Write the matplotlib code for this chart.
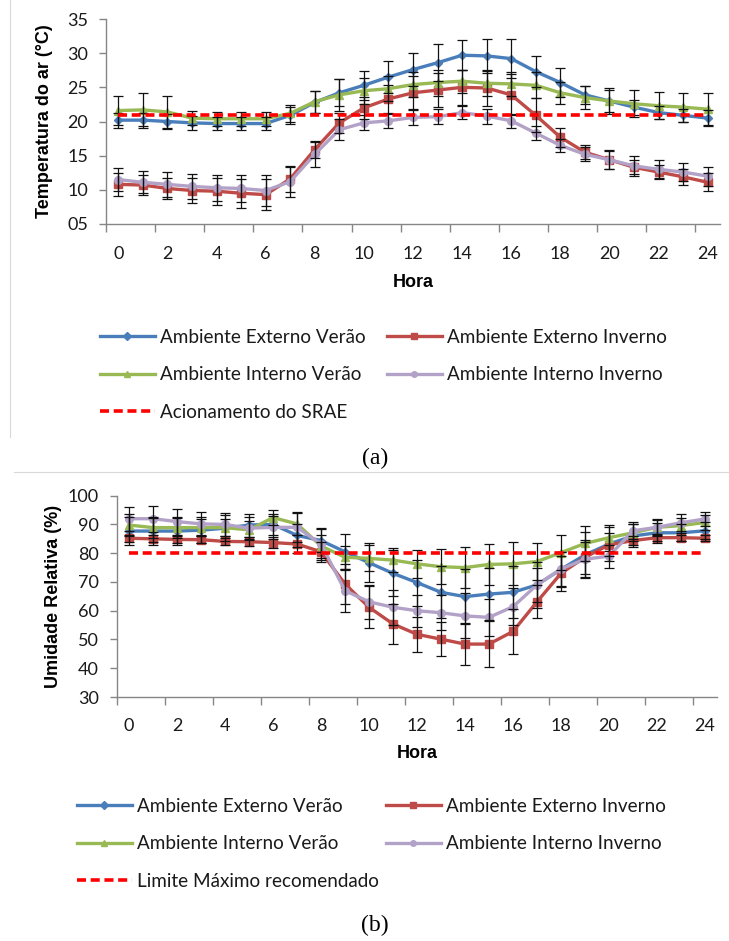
import matplotlib
matplotlib.use("Agg")
import matplotlib.pyplot as plt
from matplotlib.lines import Line2D

# ---------------- data ----------------
hours = list(range(25))
x_labels = [str(h) for h in range(0, 25, 2)]

# (a) air temperature
t_ext_verao = [20.2, 20.2, 20.0, 19.8, 19.7, 19.7, 19.7, 20.9, 22.8, 24.2, 25.3, 26.5, 27.6,
               28.6, 29.7, 29.6, 29.2, 27.3, 25.7, 23.9, 23.0, 22.1, 21.3, 20.9, 20.5]
t_ext_verao_err = [1.1, 1.1, 1.1, 1.0, 1.0, 1.0, 1.0, 1.2, 1.6, 2.0, 2.1, 2.3, 2.4,
                   2.7, 2.2, 2.5, 2.9, 2.3, 2.1, 1.3, 1.6, 1.1, 1.0, 1.0, 1.2]
t_ext_inverno = [10.8, 10.7, 10.2, 9.9, 9.8, 9.5, 9.3, 11.6, 15.9, 19.8, 22.0, 23.3, 24.2,
                 24.6, 25.0, 24.9, 23.9, 20.9, 17.7, 15.5, 14.4, 13.3, 12.6, 11.9, 11.1]
t_ext_inverno_err = [1.7, 1.5, 1.6, 1.8, 2.0, 2.1, 2.3, 1.9, 1.3, 1.5, 1.6, 2.0, 2.4,
                     2.5, 2.6, 2.7, 3.0, 2.5, 1.4, 1.0, 1.3, 1.0, 1.0, 1.2, 1.3]
t_int_verao = [21.6, 21.7, 21.4, 20.5, 20.4, 20.4, 20.4, 21.2, 22.9, 23.9, 24.5, 24.8, 25.4,
               25.7, 25.9, 25.6, 25.5, 25.3, 24.2, 23.5, 23.0, 22.6, 22.3, 22.1, 21.8]
t_int_verao_err = [2.1, 2.4, 2.3, 1.0, 1.0, 1.0, 1.0, 1.2, 1.6, 2.3, 1.9, 1.8, 1.8,
                   1.9, 1.7, 1.8, 1.8, 1.9, 1.6, 1.7, 1.9, 2.0, 2.0, 2.1, 2.3]
t_int_inverno = [11.5, 11.1, 10.8, 10.5, 10.3, 10.2, 9.9, 11.2, 15.2, 18.8, 19.8, 20.1, 20.6,
                 20.7, 21.3, 20.8, 20.1, 18.3, 16.5, 15.2, 14.4, 13.5, 13.0, 12.6, 12.0]
t_int_inverno_err = [1.7, 1.6, 1.8, 1.8, 1.9, 2.0, 2.2, 2.2, 1.8, 1.5, 1.1, 1.0, 1.1,
                     1.1, 1.0, 1.1, 1.0, 1.0, 1.0, 1.0, 1.4, 1.5, 1.3, 1.3, 1.4]
t_srae = 21
t_yticks = [5, 10, 15, 20, 25, 30, 35]
t_yticklabels = ["05", "10", "15", "20", "25", "30", "35"]

# (b) relative humidity
h_ext_verao = [87.7, 87.7, 87.7, 88.0, 88.7, 89.8, 90.0, 86.2, 84.4, 80.5, 76.7, 73.0, 69.8,
               66.4, 64.9, 65.8, 66.4, 69.0, 74.4, 79.4, 83.2, 86.0, 87.1, 87.1, 87.8]
h_ext_verao_err = [5.0, 5.0, 5.0, 4.5, 4.5, 4.0, 3.5, 4.0, 4.0, 6.1, 6.7, 8.0, 8.0,
                   9.0, 9.5, 9.0, 9.0, 8.0, 6.0, 8.0, 6.0, 4.0, 3.5, 3.0, 3.0]
h_ext_inverno = [85.2, 85.0, 84.8, 84.7, 84.1, 84.0, 83.7, 83.2, 80.5, 69.3, 61.2, 55.4, 51.8,
                 50.1, 48.4, 48.4, 52.8, 63.1, 73.0, 78.6, 82.9, 84.4, 85.4, 85.4, 85.2]
h_ext_inverno_err = [1.2, 1.2, 1.2, 1.2, 1.3, 1.6, 1.8, 3.0, 3.5, 7.0, 7.3, 7.0, 6.1,
                     5.9, 7.3, 7.9, 7.9, 5.8, 6.0, 6.0, 4.0, 1.5, 1.2, 1.0, 1.0]
h_int_verao = [89.8, 88.9, 88.9, 88.9, 88.9, 88.1, 92.4, 90.2, 82.5, 78.6, 78.2, 77.6, 76.3,
               75.3, 75.0, 76.1, 76.3, 77.1, 80.2, 83.4, 85.4, 87.1, 89.0, 89.6, 90.7]
h_int_verao_err = [3.7, 3.5, 3.5, 3.0, 3.0, 3.0, 2.5, 4.0, 4.0, 4.0, 4.5, 4.1, 4.8,
                   6.0, 7.1, 7.0, 7.5, 6.5, 6.0, 6.0, 4.5, 3.0, 2.5, 2.5, 2.5]
h_int_inverno = [92.0, 92.0, 91.0, 90.2, 90.0, 88.7, 89.0, 89.0, 83.2, 67.0, 63.1, 61.2, 60.0,
                 59.3, 58.2, 57.7, 61.4, 69.0, 74.5, 77.9, 79.0, 87.8, 89.0, 90.6, 91.9]
h_int_inverno_err = [4.2, 4.5, 4.5, 4.0, 4.0, 4.0, 4.0, 5.0, 5.5, 7.3, 6.0, 6.0, 5.5,
                     6.0, 7.8, 6.5, 6.5, 6.0, 6.0, 6.0, 4.0, 3.0, 3.0, 3.0, 2.5]
h_limite = 80
h_yticks = [30, 40, 50, 60, 70, 80, 90, 100]
h_yticklabels = [str(v) for v in h_yticks]

names = ["Ambiente Externo Verão", "Ambiente Externo Inverno",
         "Ambiente Interno Verão", "Ambiente Interno Inverno"]

# ---------------- style ----------------
colors = ["#4A7EBB", "#BE4B48", "#98B954", "#B3A2C7"]
markers = ["D", "s", "^", "o"]
msizes = [4.5, 5.5, 6, 5.5]
AX_GRAY = "#868686"
TXT = "#1a1a1a"
TICK_FONT = ["Lato", "DejaVu Sans"]
LEG_FONT = ["Lato", "DejaVu Sans"]
W, H = 729, 941

fig = plt.figure(figsize=(W / 100, H / 100), dpi=100)


def fx(px):
    return px / W


def fy(py):
    return 1 - py / H


def make_axes(left, right, top, bottom):
    return fig.add_axes([fx(left), fy(bottom), fx(right - left), (bottom - top) / H])


def style_axes(ax, yticks, yticklabels, ylim, ylabel, ylab_x, xlab_y, xpad):
    ax.set_xlim(-0.5, 24.5)
    ax.set_ylim(*ylim)
    for s in ["top", "right"]:
        ax.spines[s].set_visible(False)
    for s in ["left", "bottom"]:
        ax.spines[s].set_color(AX_GRAY)
        ax.spines[s].set_linewidth(1.0)
    ax.set_yticks(yticks)
    ax.set_yticklabels(yticklabels, fontsize=13, family=TICK_FONT, color=TXT)
    ax.set_xticks(list(range(0, 25, 2)))
    ax.set_xticklabels(x_labels, fontsize=13, family=TICK_FONT, color=TXT)
    ax.set_xticks([i - 0.5 for i in range(0, 25, 2)], minor=True)
    ax.tick_params(axis="x", which="major", length=0, pad=xpad)
    ax.tick_params(axis="x", which="minor", length=6, width=1, color=AX_GRAY, direction="out")
    ax.tick_params(axis="y", which="major", length=5, width=1, color=AX_GRAY, direction="out", pad=8)
    ax.set_xlabel("Hora", fontsize=13, fontweight="bold", family=["Liberation Sans"], color="black")
    ax.set_ylabel(ylabel, fontsize=13, fontweight="bold", family=["Liberation Sans"], color="black")
    ax.yaxis.set_label_coords(ylab_x, 0.5)
    ax.xaxis.set_label_coords(0.5, xlab_y)


def draw_series(ax, series, errs, ref_value):
    handles = []
    for vals, err, c, m, ms in zip(series, errs, colors, markers, msizes):
        ax.errorbar(hours, vals, yerr=err, fmt="none", ecolor="#111111", elinewidth=0.9,
                    capsize=3.6, capthick=0.9, zorder=4)
        ln, = ax.plot(hours, vals, color=c, lw=2.4, marker=m, markersize=ms,
                      markeredgecolor=c, markerfacecolor=c, zorder=3)
        handles.append(ln)
    ref, = ax.plot(hours, [ref_value] * len(hours), color="#FF0000", lw=2.6,
                   linestyle=(0, (2.5, 1.3)), zorder=5)
    handles.append(ref)
    return handles


def add_legends(handles, ref_label, col1_x, col2_x, top_y):
    leg_kw = dict(frameon=False, loc="upper left", borderpad=0, borderaxespad=0,
                  handlelength=2.9, handletextpad=0.28, labelspacing=1.08, numpoints=1,
                  prop={"family": LEG_FONT, "size": 13.6}, labelcolor=TXT)
    l1 = fig.legend([handles[0], handles[2], handles[4]],
                    [names[0], names[2], ref_label],
                    bbox_to_anchor=(fx(col1_x), fy(top_y)), **leg_kw)
    l2 = fig.legend([handles[1], handles[3]], [names[1], names[3]],
                    bbox_to_anchor=(fx(col2_x), fy(top_y)), **leg_kw)
    for leg in (l1, l2):
        for lh in leg.legend_handles:
            lh.set_markersize(4)


# ---------------- (a) ----------------
ax1 = make_axes(106, 720, 19, 224)
h1 = draw_series(ax1,
                 [t_ext_verao, t_ext_inverno, t_int_verao, t_int_inverno],
                 [t_ext_verao_err, t_ext_inverno_err, t_int_verao_err, t_int_inverno_err],
                 t_srae)
style_axes(ax1, t_yticks, t_yticklabels, (5, 35), "Temperatura do ar (°C)", -0.086, -0.244, 16)
add_legends(h1, "Acionamento do SRAE", 100, 387, 329)
fig.text(fx(375), fy(458), "(a)", ha="center", va="center", fontsize=17,
         family=["Liberation Serif"], color="black")

# ---------------- (b) ----------------
ax2 = make_axes(117, 717, 495.7, 697)
h2 = draw_series(ax2,
                 [h_ext_verao, h_ext_inverno, h_int_verao, h_int_inverno],
                 [h_ext_verao_err, h_ext_inverno_err, h_int_verao_err, h_int_inverno_err],
                 h_limite)
style_axes(ax2, h_yticks, h_yticklabels, (30, 100), "Umidade Relativa (%)", -0.092, -0.238, 15)
add_legends(h2, "Limite Máximo recomendado", 77, 386, 798)
fig.text(fx(375), fy(925), "(b)", ha="center", va="center", fontsize=17,
         family=["Liberation Serif"], color="black")

# faint chart-area borders
fig.add_artist(Line2D([fx(10), fx(10)], [fy(0), fy(437)], transform=fig.transFigure,
                      color="#D9D9D9", lw=0.8))
fig.add_artist(Line2D([fx(14), fx(729)], [fy(472), fy(472)], transform=fig.transFigure,
                      color="#D9D9D9", lw=0.8))

fig.savefig("out.png", dpi=100)
